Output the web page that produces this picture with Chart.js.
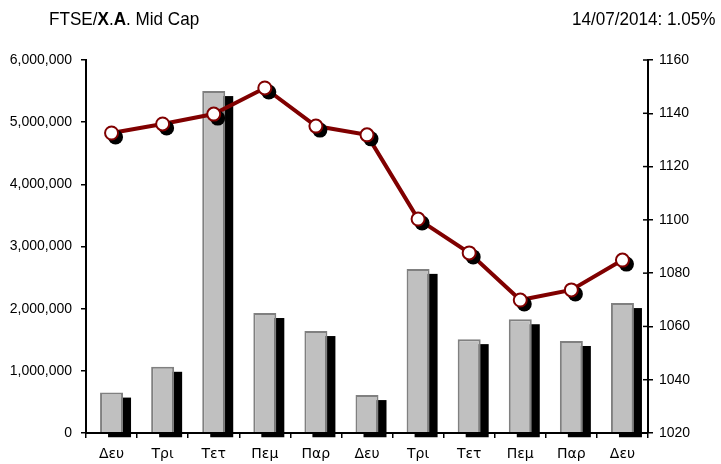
<!DOCTYPE html>
<html>
<head>
<meta charset="utf-8">
<script src="https://cdn.jsdelivr.net/npm/chart.js@4.4.1/dist/chart.umd.min.js"></script>
<style>
  body { margin: 0; background: #fff; }
  #wrap { position: relative; width: 721px; height: 464px; }
  .ttl { position: absolute; top: 8px; font-family: "Liberation Sans", Arial, sans-serif; font-size: 19px; color: #000; white-space: nowrap; }
  #t1 { left: 49px; transform: scaleX(0.9); transform-origin: left top; }
  #t2 { right: 5px; transform: scaleX(0.9); transform-origin: right top; }
</style>
</head>
<body>
<div id="wrap">
  <div class="ttl" id="t1">FTSE/<b>Χ</b>.<b>Α</b>. Mid Cap</div>
  <div class="ttl" id="t2">14/07/2014: 1.05%</div>
  <canvas id="c" width="721" height="464"></canvas>
</div>
<script>
var days = ["Δευ", "Τρι", "Τετ", "Πεμ", "Παρ", "Δευ", "Τρι", "Τετ", "Πεμ", "Παρ", "Δευ"];
var volume = [650000, 1065000, 5500000, 1930000, 1640000, 610000, 2640000, 1510000, 1830000, 1480000, 2090000];
var index = [1132.6, 1136.0, 1139.7, 1149.5, 1135.2, 1131.9, 1100.3, 1087.6, 1069.9, 1073.7, 1084.9];

// black drop shadows drawn behind bars and points
var shadowPlugin = {
    id: 'shadow',
    beforeDatasetDraw: function(chart, args) {
        var ds = chart.data.datasets[args.index];
        var ctx = chart.ctx;
        if (!ds.shadow) return;
        ctx.save();
        ctx.fillStyle = '#000';
        args.meta.data.forEach(function(el) {
            if (args.meta.type === 'bar') {
                ctx.fillRect(el.x - el.width / 2 + ds.shadow[0], el.y + ds.shadow[1], el.width, el.base - el.y);
            } else {
                ctx.beginPath();
                ctx.arc(el.x + ds.shadow[0], el.y + ds.shadow[1], ds.pointRadius + 1, 0, Math.PI * 2);
                ctx.fill();
            }
        });
        ctx.restore();
    }
};

// right axis has ticks crossing the line
var crossTicks = {
    id: 'crossTicks',
    afterDraw: function(chart) {
        var s = chart.scales.y2, ctx = chart.ctx;
        ctx.save();
        ctx.strokeStyle = '#000';
        ctx.lineWidth = 1.5;
        s.ticks.forEach(function(t, i) {
            var y = s.getPixelForTick(i);
            ctx.beginPath();
            ctx.moveTo(s.left - 5, y);
            ctx.lineTo(s.left, y);
            ctx.stroke();
        });
        ctx.restore();
    }
};

var tickFont = { family: "'Liberation Sans', Arial, sans-serif", size: 14 };

new Chart(document.getElementById('c').getContext('2d'), {
    type: 'bar',
    data: {
        labels: days,
        datasets: [
            {
                type: 'line',
                data: index,
                yAxisID: 'y2',
                borderColor: '#800000',
                borderWidth: 4,
                pointRadius: 0,
                fill: false,
                order: 1,
                clip: false
            },
            {
                type: 'line',
                data: index,
                yAxisID: 'y2',
                showLine: false,
                pointRadius: 6.5,
                pointBorderWidth: 2,
                pointBackgroundColor: '#fff',
                pointBorderColor: '#800000',
                shadow: [4, 4],
                order: 0,
                clip: false
            },
            {
                data: volume,
                yAxisID: 'y',
                backgroundColor: '#c0c0c0',
                borderColor: '#808080',
                borderWidth: 2,
                barPercentage: 0.45,
                categoryPercentage: 1,
                shadow: [8, 5],
                order: 3,
                clip: false
            }
        ]
    },
    options: {
        responsive: false,
        animation: false,
        layout: { padding: { top: 60, right: 0, left: 0, bottom: 0 } },
        plugins: { legend: { display: false }, tooltip: { enabled: false } },
        scales: {
            x: {
                offset: true,
                grid: { offset: true, drawOnChartArea: false, tickLength: 5, color: '#000', lineWidth: 1.5 },
                border: { color: '#000', width: 2, z: 1 },
                ticks: { color: '#000', font: { family: "'DejaVu Sans', sans-serif", size: 14 }, padding: 8, maxRotation: 0 },
                afterFit: function(s) { s.height = 31; }
            },
            y: {
                position: 'left',
                min: 0, max: 6000000,
                ticks: {
                    stepSize: 1000000, color: '#000', font: tickFont, padding: 9,
                    callback: function(v) { return v.toLocaleString('en-US'); }
                },
                grid: { drawOnChartArea: false, tickLength: 5, color: '#000', lineWidth: 1.5 },
                border: { color: '#000', width: 2 },
                afterFit: function(s) { s.width = 86; }
            },
            y2: {
                position: 'right',
                min: 1020, max: 1160,
                ticks: {
                    stepSize: 20, color: '#000', font: tickFont, padding: 6,
                    callback: function(v) { return String(v); }
                },
                grid: { drawOnChartArea: false, tickLength: 5, color: '#000', lineWidth: 1.5 },
                border: { color: '#000', width: 2 },
                afterFit: function(s) { s.width = 73; }
            }
        }
    },
    plugins: [shadowPlugin, crossTicks]
});
</script>
</body>
</html>
